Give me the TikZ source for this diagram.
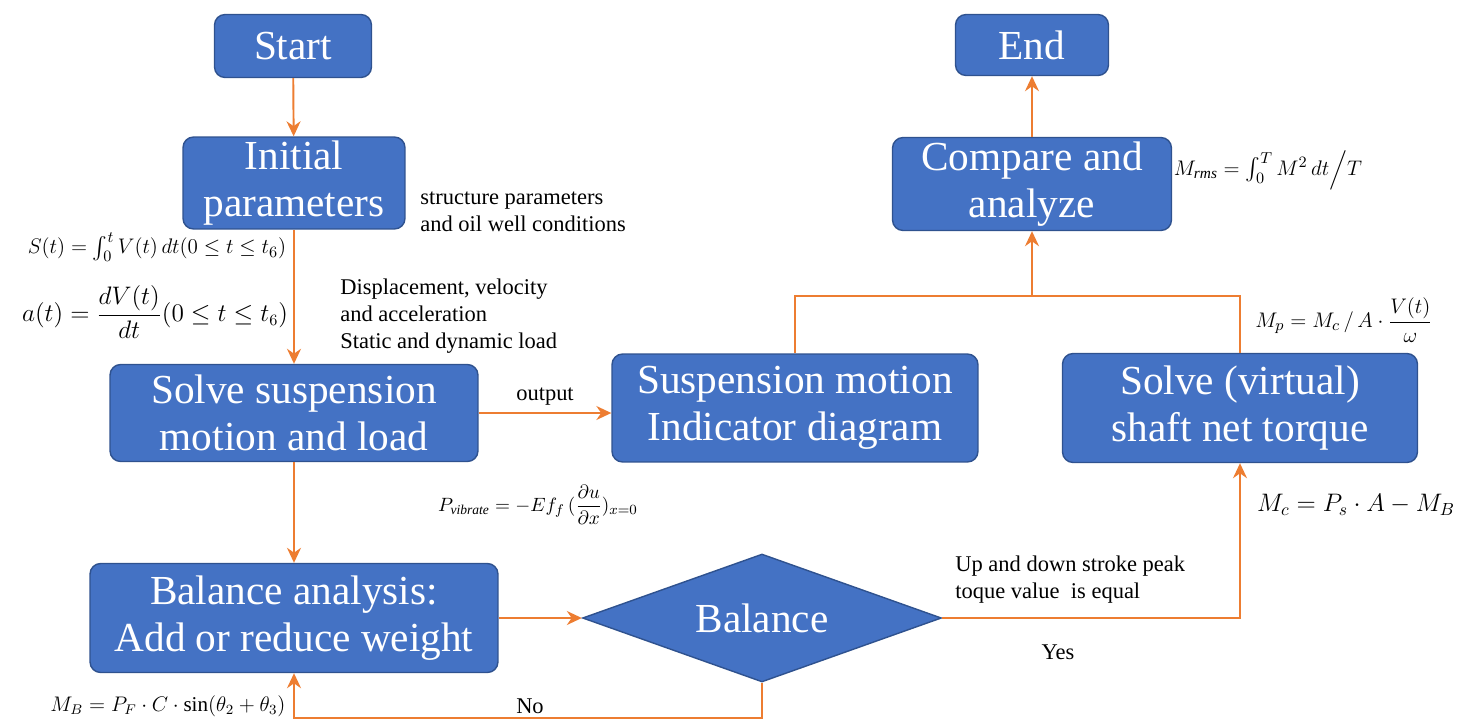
\documentclass[tikz,border=0pt]{standalone}
\usepackage{amsmath,amssymb}
\usepackage{fontspec}
\setmainfont{Liberation Serif}
\usetikzlibrary{arrows.meta, positioning, shapes.geometric}
\definecolor{blueA}{HTML}{4472C4}
\definecolor{blueB}{HTML}{2F528F}
\definecolor{orangeA}{HTML}{ED7D31}
\tikzset{
  flow/.style={
    draw=blueB, fill=blueA, text=white, rounded corners=6pt,
    line width=0.8pt, align=center, inner sep=2pt,
    font=\fontsize{23.5}{27}\selectfont
  },
  decide/.style={
    diamond, aspect=2.8, draw=blueB, fill=blueA, text=white,
    line width=0.8pt, inner sep=0pt, font=\fontsize{23.5}{27}\selectfont
  },
  arrow/.style={-{Stealth[length=3mm, width=2.8mm]}, line width=1.1pt, draw=orangeA},
  link/.style={line width=1.1pt, draw=orangeA},
  note/.style={align=left, inner sep=0pt, font=\fontsize{12.8}{15.3}\selectfont},
  eqn/.style={inner sep=0pt, font=\fontsize{#1}{#1}\selectfont},
  eqn/.default=12
}
\begin{document}
\begin{tikzpicture}[x=0.02cm, y=-0.02cm]
  \useasboundingbox (0,0) rectangle (1468,724);
  % flow boxes
  \node[flow, minimum width=3.14cm, minimum height=1.26cm] (start) at (293,46) {Start};
  \node[flow, minimum width=4.44cm, minimum height=1.84cm] (init) at (294,183) {Initial\\parameters};
  \node[flow, minimum width=7.36cm, minimum height=1.94cm] (susp) at (294,413) {Solve suspension\\motion and load};
  \node[flow, minimum width=8.16cm, minimum height=2.18cm] (wt) at (294,618) {Balance analysis:\\Add or reduce weight};
  \node[decide, minimum width=7.18cm, minimum height=2.56cm] (bal) at (762,618) {Balance};
  \node[flow, minimum width=7.32cm, minimum height=2.16cm] (ind) at (795,408) {Suspension motion\\Indicator diagram};
  \node[flow, minimum width=7.1cm, minimum height=2.18cm] (shaft) at (1240,408) {Solve (virtual)\\shaft net torque};
  \node[flow, minimum width=5.58cm, minimum height=1.86cm] (cmp) at (1032,184) {Compare and\\analyze};
  \node[flow, minimum width=3.06cm, minimum height=1.22cm] (end) at (1032,45) {End};
  % connectors
  \coordinate (noturn) at (762,718);
  \coordinate (junc) at (1032,296);
  \draw[arrow] (start) -- (init);
  \draw[arrow] (init) -- (susp);
  \draw[arrow] (susp) -- (wt);
  \draw[arrow] (susp.east) -- node[above, note, yshift=4pt] {output} (ind.west |- susp.east);
  \draw[arrow] (wt.east) -- (bal.west);
  \draw[arrow] (bal.east) -| (shaft.south);
  \draw[arrow] (bal.south) -- (noturn) -| (wt.south);
  \draw[link] (ind.north) |- (junc) -| (shaft.north);
  \draw[arrow] (junc) -- (cmp.south);
  \draw[arrow] (cmp) -- (end);
  % notes
  \node[note, anchor=west] (cond) at (420,212) {structure parameters\\and oil well conditions};
  \node[note, anchor=west] (kin) at (340,316) {Displacement, velocity\\and acceleration\\Static and dynamic load};
  \node[note, anchor=west] (peak) at (955,580) {Up and down stroke peak\\toque value\ \ is equal};
  \node[note] (yes) at (1058,652) {Yes};
  \node[note] (no) at (530,706) {No};
  % formulas
  \node[eqn=12.5] (eqS) at (157,247) {$S(t)=\int_0^t V(t)\,dt(0\le t\le t_6)$};
  \node[eqn=13.5] (eqa) at (155,312) {$a(t)=\dfrac{dV(t)}{dt}(0\le t\le t_6)$};
  \node[eqn=11] (eqP) at (538,505) {$P_{\mathit{vibrate}}=-Ef_f\,(\dfrac{\partial u}{\partial x})_{x=0}$};
  \node[eqn=12] (eqB) at (168,706) {$M_B=P_F\cdot C\cdot\sin(\theta_2+\theta_3)$};
  \node[eqn=12.5] (eqR) at (1268,170) {$M_{\mathit{rms}}=\int_0^T M^2\,dt\Big/T$};
  \node[eqn=12.5] (eqp) at (1344,320) {$M_p=M_c\,/\,A\cdot\dfrac{V(t)}{\omega}$};
  \node[eqn=14] (eqc) at (1356,505) {$M_c=P_s\cdot A-M_B$};
\end{tikzpicture}
\end{document}
